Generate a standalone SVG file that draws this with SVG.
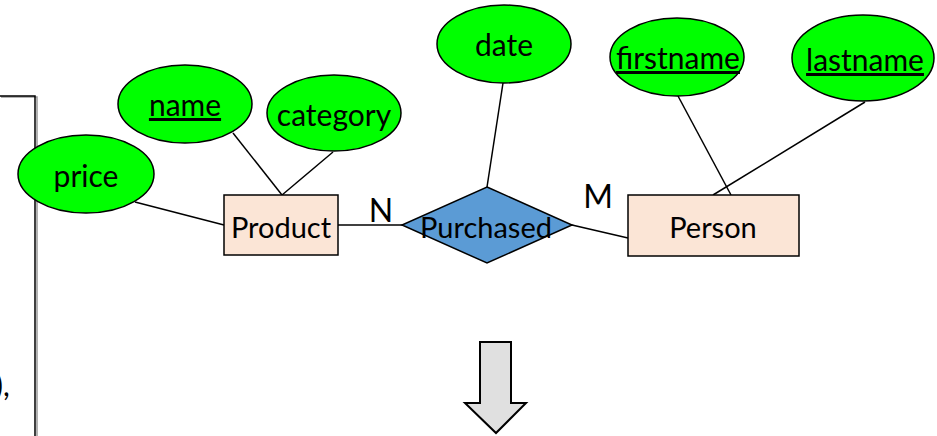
<svg xmlns="http://www.w3.org/2000/svg" width="937" height="436" viewBox="0 0 937 436">
  <style>
    text { font-family: Lato, "Open Sans", "Liberation Sans", sans-serif; font-size: 30px; fill: #000; text-anchor: middle; }
    .ent { font-size: 29px; }
    .card { font-size: 32px; }
    .attr { fill: #00ff00; stroke: #000; stroke-width: 1.5; }
    .entity { fill: #fbe5d6; stroke: #000; stroke-width: 1.5; }
    .rel { fill: #5b9bd5; stroke: #000; stroke-width: 1.5; }
    .link { stroke: #000; stroke-width: 1.5; fill: none; }
    .key { text-decoration: underline; }
  </style>

  <!-- bracket frame at the left edge -->
  <g id="frame">
    <polyline points="1,97 37,97 37,436" fill="none" stroke="#999" stroke-width="1.5"/>
    <polyline points="0,96 35,96 35,436" fill="none" stroke="#000" stroke-width="1.5"/>
    <text x="-5" y="396" style="text-anchor:start">),</text>
  </g>

  <!-- connectors -->
  <g id="connectors">
    <line class="link" x1="135" y1="202" x2="224" y2="225"/>
    <line class="link" x1="233" y1="133" x2="282" y2="195"/>
    <line class="link" x1="333" y1="152" x2="282" y2="195"/>
    <line class="link" x1="338" y1="225" x2="402" y2="225"/>
    <line class="link" x1="503" y1="83" x2="487" y2="187"/>
    <line class="link" x1="572" y1="225" x2="628" y2="238"/>
    <line class="link" x1="678" y1="96" x2="731" y2="195"/>
    <line class="link" x1="865" y1="102" x2="713" y2="195"/>
  </g>

  <g id="price">
    <ellipse class="attr" cx="86" cy="174" rx="68" ry="39"/>
    <text x="86" y="187">price</text>
  </g>
  <g id="name">
    <ellipse class="attr" cx="185" cy="104" rx="67" ry="39"/>
    <text class="key" x="185" y="116">name</text>
  </g>
  <g id="category">
    <ellipse class="attr" cx="334" cy="113" rx="67" ry="38"/>
    <text x="334" y="126">category</text>
  </g>
  <g id="product">
    <rect class="entity" x="224" y="195" width="114" height="60"/>
    <text class="ent" x="281" y="238">Product</text>
  </g>
  <g id="purchased">
    <polygon class="rel" points="487,187 572,225 487,263 402,225"/>
    <text class="ent" x="486" y="238">Purchased</text>
  </g>
  <g id="date">
    <ellipse class="attr" cx="504" cy="44" rx="67" ry="39"/>
    <text x="504" y="56">date</text>
  </g>
  <g id="person">
    <rect class="entity" x="628" y="195" width="171" height="61"/>
    <text class="ent" x="713" y="238">Person</text>
  </g>
  <g id="firstname">
    <ellipse class="attr" cx="677" cy="57" rx="67" ry="39"/>
    <text class="key" x="678" y="69">firstname</text>
  </g>
  <g id="lastname">
    <ellipse class="attr" cx="863" cy="58" rx="71" ry="43"/>
    <text class="key" x="865" y="71">lastname</text>
  </g>

  <!-- cardinalities -->
  <g id="cardinality-n"><text class="card" x="381" y="222">N</text></g>
  <g id="cardinality-m"><text class="card" x="598" y="208">M</text></g>

  <!-- block arrow pointing down -->
  <g id="down-arrow">
    <polygon points="480,342 511,342 511,403 526,403 496,433 465,403 480,403" fill="#e0e0e0" stroke="#000" stroke-width="2"/>
  </g>
</svg>
